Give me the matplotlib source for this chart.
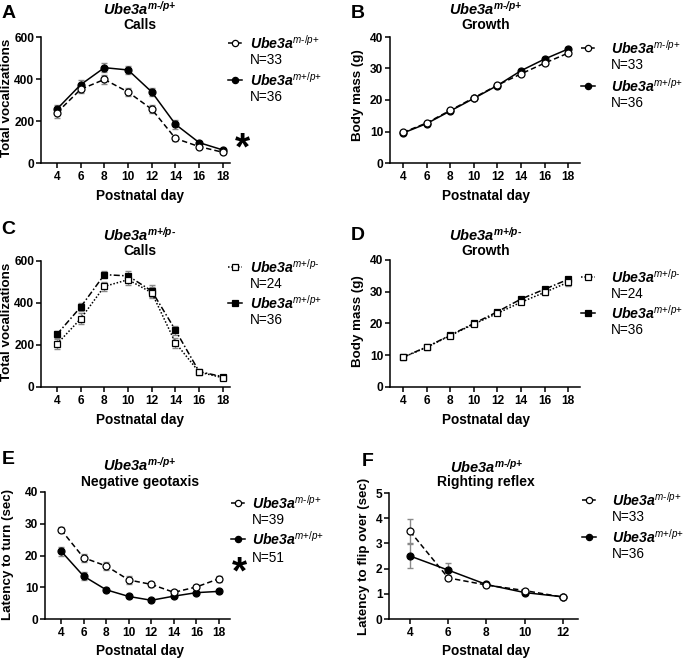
import matplotlib
matplotlib.use("Agg")
import matplotlib.pyplot as plt
import matplotlib.transforms as mtransforms
from matplotlib.lines import Line2D

plt.rcParams['font.family'] = ['Liberation Sans', 'DejaVu Sans']
plt.rcParams['mathtext.fontset'] = 'custom'
plt.rcParams['mathtext.rm'] = 'Liberation Sans'
plt.rcParams['mathtext.it'] = 'Liberation Sans:italic'
plt.rcParams['mathtext.bf'] = 'Liberation Sans:bold'
try:
    plt.rcParams['mathtext.bfit'] = 'Liberation Sans:bold:italic'
except KeyError:
    pass

W, H = 685, 660

# ---- data ----
days = [4, 6, 8, 10, 12, 14, 16, 18]
days_f = [4, 6, 8, 10, 12]

# A: calls, m-/p+ vs m+/p+
calls_mat = [240, 351, 398, 338, 256, 117, 78, 51]
calls_mat_err = [25, 20, 22, 20, 20, 12, 8, 6]
calls_wt_a = [257, 373, 454, 443, 338, 184, 97, 62]
calls_wt_a_err = [20, 20, 22, 18, 20, 20, 8, 6]

# B: growth, m-/p+ vs m+/p+
mass_mat = [9.7, 12.7, 16.7, 20.7, 24.7, 28.3, 31.7, 34.9]
mass_mat_err = [0.3, 0.3, 0.3, 0.3, 0.4, 0.5, 0.6, 0.7]
mass_wt_b = [9.5, 12.5, 16.5, 20.5, 24.6, 29.3, 33.0, 36.2]
mass_wt_b_err = [0.3, 0.3, 0.3, 0.3, 0.4, 0.6, 0.6, 0.7]

# C: calls, m+/p- vs m+/p+
calls_pat = [205, 325, 479, 511, 449, 210, 71, 44]
calls_pat_err = [22, 25, 20, 25, 25, 25, 8, 6]
calls_wt_c = [251, 381, 535, 529, 457, 270, 73, 49]
calls_wt_c_err = [18, 18, 18, 25, 28, 22, 8, 6]

# D: growth, m+/p- vs m+/p+
mass_pat = [9.3, 12.5, 16.2, 19.8, 23.2, 26.7, 29.8, 33.0]
mass_pat_err = [0.3, 0.4, 0.4, 0.5, 0.6, 0.7, 0.9, 1.1]
mass_wt_d = [9.4, 12.6, 16.3, 20.0, 23.7, 27.7, 30.8, 33.9]
mass_wt_d_err = [0.3, 0.4, 0.4, 0.5, 0.5, 0.6, 0.7, 0.8]

# E: negative geotaxis
geo_mat = [28.1, 19.3, 16.7, 12.3, 10.9, 8.4, 10.1, 12.7]
geo_mat_err = [0.8, 1.3, 1.2, 1.3, 0.9, 0.6, 0.6, 0.9]
geo_wt = [21.4, 13.5, 9.2, 7.1, 5.9, 7.2, 8.3, 8.7]
geo_wt_err = [1.4, 1.3, 0.6, 0.4, 0.3, 0.4, 0.5, 0.4]

# F: righting reflex
right_mat = [3.48, 1.63, 1.35, 1.13, 0.87]
right_mat_err = [0.47, 0.10, 0.07, 0.07, 0.05]
right_wt = [2.50, 1.94, 1.37, 1.05, 0.88]
right_wt_err = [0.48, 0.30, 0.07, 0.06, 0.05]

MAT = 'm\u2010/p{+}'
PAT = 'm{+}/p\u2010'
WT = 'm{+}/p{+}'

DASH = (0, (3.5, 2))
DOT = (0, (1, 1.2))
DASHDOT = (0, (4, 1.5, 1, 1.5))
ECOL = '#8a8a8a'


def fx(px):
    return px / W


def fy(py):
    return 1 - py / H


def gene(sup, bold_sup=False):
    if bold_sup:
        return r'$\mathbfit{Ube3a}^{\mathbfit{' + sup + '}}$'
    return r'$\mathbfit{Ube3a}^{\mathit{' + sup + '}}$'


def make_axes(left, top, right, bottom, xlim, ylim, yticks, xticks):
    ax = fig.add_axes([fx(left), fy(bottom), fx(right - left), (bottom - top) / H])
    ax.set_xlim(*xlim)
    ax.set_ylim(*ylim)
    ax.set_xticks(xticks)
    ax.set_yticks(yticks)
    for s in ['top', 'right']:
        ax.spines[s].set_visible(False)
    for s in ['left', 'bottom']:
        ax.spines[s].set_linewidth(1.1)
    ax.tick_params(axis='both', length=3.5, width=1.1, labelsize=8.6)
    ax.tick_params(axis='y', pad=1.2)
    ax.tick_params(axis='x', pad=2)
    for lab in ax.get_xticklabels() + ax.get_yticklabels():
        lab.set_fontweight('bold')
    return ax


def series(ax, x, y, err, marker, filled, ls):
    ax.errorbar(x, y, yerr=err, fmt='none', ecolor=ECOL, elinewidth=1.0,
                capsize=2.5, capthick=1.0, zorder=2)
    ax.plot(x, y, color='black', lw=1.1, linestyle=ls, marker=marker,
            markersize=5, markeredgewidth=0.9, markeredgecolor='black',
            markerfacecolor='black' if filled else 'white', zorder=3)


def labels(ax, xmid, title_top, title_bottom, ylabel, ylab_x, ylab_y, xlab_y, title_y):
    tr = mtransforms.blended_transform_factory(ax.transData, fig.transFigure)
    ax.text(xmid, fy(title_y[0]), title_top, transform=tr, ha='center', va='center',
            fontsize=10.5)
    ax.text(xmid, fy(title_y[1]), title_bottom, transform=tr, ha='center', va='center',
            fontsize=10, fontweight='bold')
    ax.set_xlabel('Postnatal day', fontsize=9.8, fontweight='bold', va='center')
    ax.xaxis.set_label_coords(xmid, fy(xlab_y), transform=tr)
    ax.set_ylabel(ylabel, fontsize=9.6, fontweight='bold', va='center')
    ax.yaxis.set_label_coords(fx(ylab_x), fy(ylab_y), transform=fig.transFigure)


def legend_entry(xc, y, xtext, marker, filled, ls, name, n_text, dy=17):
    ln = Line2D([fx(xc - 7), fx(xc), fx(xc + 7)], [fy(y)] * 3, transform=fig.transFigure,
                color='black', lw=1.1, linestyle=ls, marker=marker, markevery=[1],
                markersize=4.5, markeredgewidth=0.9, markeredgecolor='black',
                markerfacecolor='black' if filled else 'white')
    fig.add_artist(ln)
    fig.text(fx(xtext), fy(y), name, ha='left', va='center', fontsize=10.2)
    fig.text(fx(xtext), fy(y + dy), n_text, ha='left', va='center', fontsize=9.8)


fig = plt.figure(figsize=(W / 100, H / 100), dpi=100)

# ---------- A ----------
axA = make_axes(41, 37, 230, 163, (2.65, 18.6), (0, 600), [0, 200, 400, 600], days)
series(axA, days, calls_wt_a, calls_wt_a_err, 'o', True, '-')
series(axA, days, calls_mat, calls_mat_err, 'o', False, DASH)
labels(axA, 11, gene(MAT, True), 'Calls', 'Total vocalizations', 7.5, 98, 196, (9, 25))
legend_entry(235, 43, 250, 'o', False, DASH, gene(MAT), 'N=33')
legend_entry(235, 80, 250, 'o', True, '-', gene(WT), 'N=36')
fig.text(fx(242), fy(149), '*', ha='center', va='center', fontsize=28, fontweight='bold')

# ---------- B ----------
axB = make_axes(390, 37, 580, 163, (2.9, 19.0), (0, 40), [0, 10, 20, 30, 40], days)
series(axB, days, mass_wt_b, mass_wt_b_err, 'o', True, '-')
series(axB, days, mass_mat, mass_mat_err, 'o', False, DASH)
labels(axB, 11, gene(MAT, True), 'Growth', 'Body mass (g)', 358, 95, 196, (9, 25))
legend_entry(588, 48, 611, 'o', False, DASH, gene(MAT), 'N=33')
legend_entry(588, 86, 611, 'o', True, '-', gene(WT), 'N=36')

# ---------- C ----------
axC = make_axes(41, 261, 230, 387, (2.65, 18.6), (0, 600), [0, 200, 400, 600], days)
series(axC, days, calls_wt_c, calls_wt_c_err, 's', True, DASHDOT)
series(axC, days, calls_pat, calls_pat_err, 's', False, DOT)
labels(axC, 11, gene(PAT, True), 'Calls', 'Total vocalizations', 7.5, 322, 420, (235, 251))
legend_entry(235, 267, 250, 's', False, DOT, gene(PAT), 'N=24')
legend_entry(235, 303, 250, 's', True, '-', gene(WT), 'N=36')

# ---------- D ----------
axD = make_axes(390, 260, 580, 387, (2.9, 19.0), (0, 40), [0, 10, 20, 30, 40], days)
series(axD, days, mass_wt_d, mass_wt_d_err, 's', True, DASHDOT)
series(axD, days, mass_pat, mass_pat_err, 's', False, DOT)
labels(axD, 11, gene(PAT, True), 'Growth', 'Body mass (g)', 358, 321, 420, (235, 251))
legend_entry(588, 277, 611, 's', False, DOT, gene(PAT), 'N=24')
legend_entry(588, 313, 611, 's', True, '-', gene(WT), 'N=36')

# ---------- E ----------
axE = make_axes(45, 492, 230, 619, (2.58, 18.97), (0, 40), [0, 10, 20, 30, 40], days)
series(axE, days, geo_wt, geo_wt_err, 'o', True, '-')
series(axE, days, geo_mat, geo_mat_err, 'o', False, DASH)
labels(axE, 11, gene(MAT, True), 'Negative geotaxis', 'Latency to turn (sec)', 8, 555, 651, (465, 482))
legend_entry(238, 503, 252, 'o', False, DASH, gene(MAT), 'N=39')
legend_entry(238, 539, 252, 'o', True, '-', gene(WT), 'N=51', dy=19)
fig.text(fx(239), fy(573), '*', ha='center', va='center', fontsize=28, fontweight='bold')

# ---------- F ----------
axF = make_axes(389, 493, 578, 619, (2.9, 12.8), (0, 5), [0, 1, 2, 3, 4, 5], days_f)
series(axF, days_f, right_wt, right_wt_err, 'o', True, '-')
series(axF, days_f, right_mat, right_mat_err, 'o', False, DASH)
labels(axF, 8, gene(MAT, True), 'Righting reflex', 'Latency to flip over (sec)', 364, 556, 651, (467, 482))
legend_entry(589, 500, 612, 'o', False, DASH, gene(MAT), 'N=33')
legend_entry(589, 537, 612, 'o', True, '-', gene(WT), 'N=36')

# panel letters
for letter, (px, py) in zip('ABCDEF', [(9, 13), (358, 13), (8, 230), (358, 235), (8, 460), (368, 462)]):
    fig.text(fx(px), fy(py), letter, ha='center', va='center', fontsize=14, fontweight='bold')

fig.savefig('out.png', dpi=100)
